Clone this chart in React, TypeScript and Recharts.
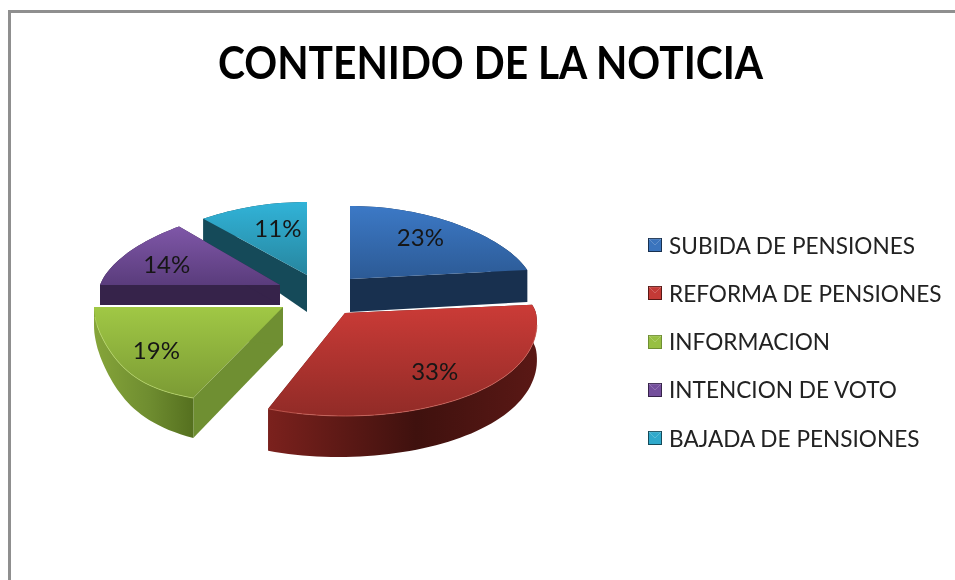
import React from "react";
import { PieChart, Pie, Legend } from "recharts";

const CATEGORIES = [
  "SUBIDA DE PENSIONES",
  "REFORMA DE PENSIONES",
  "INFORMACION",
  "INTENCION DE VOTO",
  "BAJADA DE PENSIONES",
];
const VALUES = [23, 33, 19, 14, 11];
const COLORS = ["#3a74bd", "#c43a36", "#97bf42", "#744f9c", "#2fa9cb"];

// look of each slice, same order as CATEGORIES
const TOP_FACE = [
  ["#3c79c6", "#2c5a95"],
  ["#cb3b37", "#912b27"],
  ["#a0c845", "#7b9a34"],
  ["#7f57a8", "#5a3c7c"],
  ["#31b3d8", "#27869f"],
];
const RADIAL_WALL = ["#18304f", "#5a1815", "#6f8f32", "#36234a", "#154a59"];
const OUTER_WALL = [
  ["#18304f", "#18304f", "#18304f"],
  ["#7b211d", "#3f110e", "#5a1815"],
  ["#86a53a", "#6f8d30", "#55701f"],
  ["#36234a", "#36234a", "#36234a"],
  ["#154a59", "#154a59", "#154a59"],
];
const RIM = ["none", "#d4685e", "#b9d96a", "none", "none"];

// the slices are exploded and drawn in perspective, so each has its own projection
const SLICE_VIEW = [
  { x: 350, y: 279, rx: 182, ryBack: 73, ryFront: 80, k: 0.15, kPow: 1, dApex: 33, dStart: 32, dEnd: 32, labelR: 0.73, labelShift: -4.4 },
  { x: 345, y: 313, rx: 191, ryBack: 66, ryFront: 103, k: 0.1, kPow: 1, dApex: 38, dStart: 36, dEnd: 42, labelR: 0.71, labelShift: 0 },
  { x: 283, y: 307, rx: 189, ryBack: 70, ryFront: 98, k: 0.37, kPow: 3.4, dApex: 38, dStart: 40, dEnd: 18, labelR: 0.77, labelShift: 0 },
  { x: 280, y: 285, rx: 180, ryBack: 76, ryFront: 80, k: 0.157, kPow: 1, dApex: 20, dStart: 20, dEnd: 20, labelR: 0.73, labelShift: -2 },
  { x: 307, y: 275, rx: 184, ryBack: 73, ryFront: 80, k: 0.15, kPow: 1, dApex: 37, dStart: 22, dEnd: 37, labelR: 0.68, labelShift: 4 },
];

// reversed so the pie paints teal first and the front slices last
const pieData = CATEGORIES.map((name, i) => ({ name, value: VALUES[i], fill: COLORS[i] })).reverse();

const rad = (d: number) => (d * Math.PI) / 180;

function project(v: any, theta: number, r: number) {
  const c = Math.cos(rad(theta));
  const s = Math.sin(rad(theta));
  const persp = 1 - v.k * Math.sign(c) * Math.pow(Math.abs(c), v.kPow);
  return {
    x: v.x + s * v.rx * persp * r,
    y: v.y - c * (c > 0 ? v.ryBack : v.ryFront) * r,
  };
}

function toPath(points: { x: number; y: number }[]) {
  return "M" + points.map((p) => `${p.x.toFixed(1)},${p.y.toFixed(1)}`).join("L") + "Z";
}

function clockwiseRange(startAngle: number, endAngle: number) {
  let lo = 90 - endAngle;
  let hi = 90 - startAngle;
  while (lo < 0) {
    lo += 360;
    hi += 360;
  }
  return [lo, hi];
}

function Slice3D(props: any) {
  const idx = CATEGORIES.indexOf(props.name ?? props.payload?.name);
  const v = SLICE_VIEW[idx];
  const [lo, hi] = clockwiseRange(props.startAngle, props.endAngle);

  const arc: number[] = [];
  const steps = Math.ceil((hi - lo) / 2);
  for (let i = 0; i <= steps; i++) arc.push(lo + ((hi - lo) * i) / steps);

  const rimDepth = (t: number) => v.dStart + ((v.dEnd - v.dStart) * (t - lo)) / (hi - lo);
  const apex = project(v, 0, 0);
  const down = (p: { x: number; y: number }, d: number) => ({ x: p.x, y: p.y + d });

  const top = [apex, ...arc.map((t) => project(v, t, 1))];
  const outer = [
    ...arc.map((t) => project(v, t, 1)),
    ...[...arc].reverse().map((t) => down(project(v, t, 1), rimDepth(t))),
  ];
  const wallAt = (t: number, d: number) => {
    const rim = project(v, t, 1);
    return [apex, rim, down(rim, d), down(apex, v.dApex)];
  };

  const frontArc = arc.filter((t) => Math.cos(rad(t)) < -0.1);

  return (
    <g>
      <defs>
        <linearGradient id={`top-${idx}`} x1="0" y1="0" x2="0" y2="1">
          <stop offset="0" stopColor={TOP_FACE[idx][0]} />
          <stop offset="1" stopColor={TOP_FACE[idx][1]} />
        </linearGradient>
        <linearGradient id={`wall-${idx}`} x1="0" y1="0" x2="1" y2="0">
          <stop offset="0" stopColor={OUTER_WALL[idx][0]} />
          <stop offset="0.55" stopColor={OUTER_WALL[idx][1]} />
          <stop offset="1" stopColor={OUTER_WALL[idx][2]} />
        </linearGradient>
      </defs>
      <path d={toPath(wallAt(lo, v.dStart))} fill={RADIAL_WALL[idx]} />
      <path d={toPath(wallAt(hi, v.dEnd))} fill={RADIAL_WALL[idx]} />
      <path d={toPath(outer)} fill={`url(#wall-${idx})`} />
      <path d={toPath(top)} fill={`url(#top-${idx})`} />
      {RIM[idx] !== "none" && (
        <polyline
          points={frontArc
            .map((t) => {
              const p = project(v, t, 1);
              return `${p.x.toFixed(1)},${p.y.toFixed(1)}`;
            })
            .join(" ")}
          fill="none"
          stroke={RIM[idx]}
          strokeOpacity={0.7}
          strokeWidth={1}
        />
      )}
    </g>
  );
}

function PercentLabel(props: any) {
  const idx = CATEGORIES.indexOf(props.name);
  const v = SLICE_VIEW[idx];
  const [lo, hi] = clockwiseRange(props.startAngle, props.endAngle);
  const p = project(v, (lo + hi) / 2 + v.labelShift, v.labelR);
  return (
    <text
      x={p.x}
      y={p.y}
      textAnchor="middle"
      dominantBaseline="central"
      fontFamily="Lato, sans-serif"
      fontSize={24}
      fill="#161616"
    >
      {Math.round(props.percent * 100)}%
    </text>
  );
}

function Marker({ color, shade }: { color: string; shade: string }) {
  return (
    <svg width={14} height={14} style={{ display: "block", flex: "none" }}>
      <rect x={0} y={0} width={14} height={14} fill={shade} />
      <rect x={1} y={1} width={12} height={12} fill={color} />
      <polygon points="1,1 13,1 7,7" fill={color} stroke="#fff" strokeOpacity={0.35} strokeWidth={0.6} />
    </svg>
  );
}

function LegendList() {
  return (
    <div style={{ fontFamily: "Lato, sans-serif", fontSize: 22.6, color: "#222" }}>
      {CATEGORIES.map((name, i) => (
        <div key={name} style={{ display: "flex", alignItems: "center", height: 48.25, whiteSpace: "nowrap" }}>
          <Marker color={COLORS[i]} shade={RADIAL_WALL[i]} />
          <span style={{ marginLeft: 7 }}>{name}</span>
        </div>
      ))}
    </div>
  );
}

export default function App() {
  return (
    <div
      style={{
        position: "fixed",
        left: 0,
        top: 0,
        width: 955,
        height: 580,
        background: "#fff",
        overflow: "hidden",
        filter: "blur(0.5px)",
      }}
    >
      <div
        style={{
          position: "absolute",
          left: 8,
          top: 10,
          width: 960,
          height: 600,
          borderLeft: "3px solid #8f8f8f",
          borderTop: "3px solid #8f8f8f",
          boxSizing: "border-box",
        }}
      />
      <div
        style={{
          position: "absolute",
          left: 218,
          top: 30,
          fontFamily: "Lato, sans-serif",
          fontWeight: 700,
          fontSize: 45,
          lineHeight: "64px",
          color: "#000",
          whiteSpace: "nowrap",
          transform: "scaleX(0.905)",
          transformOrigin: "left center",
        }}
      >
        CONTENIDO DE LA NOTICIA
      </div>
      <PieChart width={955} height={580} margin={{ top: 0, right: 0, bottom: 0, left: 0 }} style={{ position: "absolute", left: 0, top: 0 }}>
        <Pie
          data={pieData}
          dataKey="value"
          nameKey="name"
          cx={315}
          cy={300}
          outerRadius={180}
          startAngle={90}
          endAngle={450}
          stroke="none"
          isAnimationActive={false}
          shape={Slice3D}
          labelLine={false}
          label={PercentLabel}
        />
        <Legend content={LegendList} wrapperStyle={{ position: "absolute", left: 648, top: 221, width: 300 }} />
      </PieChart>
    </div>
  );
}
